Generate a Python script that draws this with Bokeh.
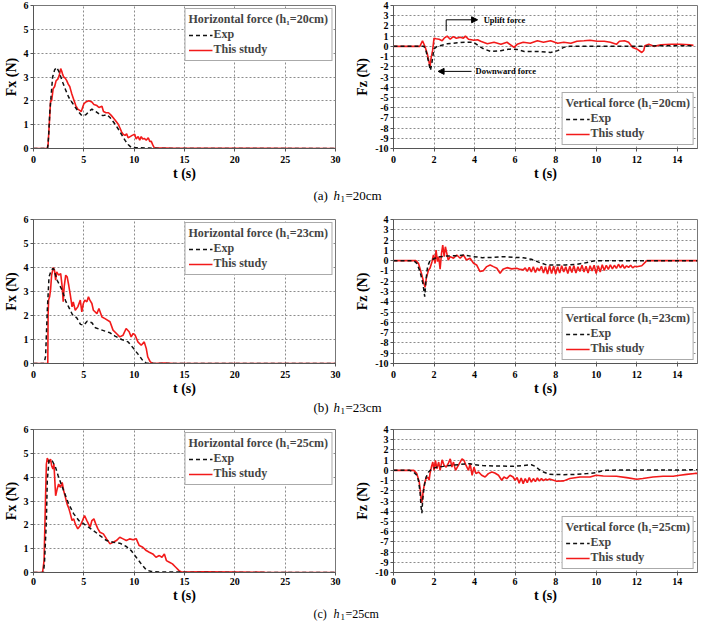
from bokeh.plotting import figure
from bokeh.models import Range1d, FixedTicker, Legend, LegendItem, Label, Arrow, NormalHead
from bokeh.layouts import column, row
from bokeh.embed import file_html
from bokeh.resources import INLINE

FONT = "Liberation Serif"
RED = "#f21a1a"
BLACK = "#111111"

# ---------------- data (t [s], force [N]) ----------------
fx20_exp = [(0, 0), (1.4, 0), (1.5, 0.5), (1.63, 1.6), (1.9, 3.0), (2.1, 3.3), (2.3, 3.4), (2.5, 3.25),
            (2.9, 2.78), (3.2, 2.45), (3.5, 2.15), (3.8, 1.95), (4.15, 1.73), (4.5, 1.52), (4.8, 1.38),
            (5.2, 1.42), (5.5, 1.55), (5.8, 1.65), (6.2, 1.55), (6.6, 1.42), (6.9, 1.38), (7.3, 1.42),
            (7.6, 1.3), (8.0, 1.08), (8.4, 0.83), (8.8, 0.55), (9.1, 0.34), (9.4, 0.17), (9.7, 0.05),
            (10.2, 0.03), (11.5, 0.02), (12.0, 0.01), (12.5, 0), (30, 0)]
fx20_sim = [(0, 0), (1.35, 0), (1.45, 0.15), (1.55, 0.9), (1.7, 2.0), (1.8, 2.0), (1.95, 2.5), (2.1, 2.6),
            (2.25, 2.85), (2.4, 2.9), (2.55, 3.05), (2.7, 3.35), (2.8, 3.25), (2.9, 3.1), (3.0, 3.0),
            (3.15, 2.95), (3.3, 2.85), (3.45, 2.7), (3.6, 2.6), (3.7, 2.45), (3.8, 2.3), (4.0, 2.05),
            (4.2, 1.8), (4.4, 1.65), (4.6, 1.6), (4.75, 1.55), (4.9, 1.75), (5.0, 1.87), (5.2, 1.95),
            (5.5, 2.0), (5.8, 1.95), (6.0, 1.85), (6.3, 1.8), (6.5, 1.72), (6.8, 1.77), (6.95, 1.55),
            (7.2, 1.5), (7.45, 1.5), (7.7, 1.4), (7.9, 1.3), (8.1, 1.2), (8.4, 1.03), (8.6, 0.85),
            (8.75, 0.7), (8.9, 0.6), (9.1, 0.55), (9.25, 0.62), (9.4, 0.45), (9.6, 0.5), (9.8, 0.55),
            (10.05, 0.6), (10.2, 0.4), (10.4, 0.5), (10.55, 0.35), (10.7, 0.5), (10.85, 0.4), (11.0, 0.42),
            (11.2, 0.35), (11.4, 0.45), (11.55, 0.3), (11.7, 0.3), (11.85, 0.15), (12.0, 0.03), (13.0, 0.02),
            (14.0, 0.01), (30, 0)]

fx23_exp = [(0, 0), (1.05, 0), (1.2, 0.3), (1.37, 2.2), (1.54, 3.6), (1.7, 3.8), (1.9, 3.95), (2.0, 3.95),
            (2.35, 3.47), (2.85, 3.05), (3.2, 2.6), (3.5, 2.35), (3.86, 2.04), (4.3, 1.9), (4.67, 1.63),
            (5.0, 1.6), (5.33, 1.76), (5.8, 1.7), (6.15, 1.49), (6.6, 1.42), (7.1, 1.35), (7.6, 1.28),
            (8.1, 1.14), (8.76, 1.0), (9.1, 0.95), (9.4, 0.9), (9.9, 0.65), (10.4, 0.38), (10.9, 0.1),
            (11.2, 0.02), (12, 0), (30, 0)]
fx23_sim = [(0, 0), (1.42, 0), (1.45, 2.0), (1.5, 2.64), (1.6, 2.78), (1.7, 3.1), (1.8, 3.68), (1.96, 4.0),
            (2.08, 3.9), (2.2, 3.47), (2.3, 3.82), (2.5, 3.68), (2.7, 3.75), (2.85, 3.2), (2.95, 2.57),
            (3.05, 3.2), (3.2, 3.68), (3.35, 3.6), (3.5, 3.26), (3.66, 2.85), (3.83, 2.36), (3.95, 2.57),
            (4.15, 2.22), (4.4, 2.36), (4.65, 2.64), (4.8, 2.15), (4.95, 2.5), (5.1, 2.64), (5.3, 2.57),
            (5.46, 2.78), (5.6, 2.64), (5.8, 2.5), (5.95, 2.22), (6.3, 2.08), (6.5, 2.29), (6.8, 1.94),
            (7.1, 1.87), (7.6, 1.74), (7.9, 1.39), (8.24, 1.25), (8.57, 1.11), (8.9, 1.18), (9.2, 1.46),
            (9.5, 1.32), (9.7, 1.11), (9.9, 1.25), (10.1, 1.18), (10.37, 0.9), (10.7, 0.76), (11.0, 0.9),
            (11.2, 0.63), (11.35, 0.28), (11.6, 0.07), (11.85, 0), (13, 0.02), (14, 0), (30, 0)]

fx25_exp = [(0, 0), (1.0, 0), (1.1, 0.5), (1.28, 2.18), (1.37, 3.85), (1.54, 4.72), (1.86, 4.69), (2.2, 4.4),
            (2.45, 4.06), (2.75, 3.71), (3.0, 3.43), (3.5, 2.87), (4.0, 2.46), (4.5, 2.18), (5.0, 2.04),
            (5.46, 1.9), (5.95, 1.76), (6.6, 1.55), (7.26, 1.34), (7.9, 1.27), (8.57, 1.23), (9.22, 1.09),
            (9.7, 0.92), (10.2, 0.64), (10.7, 0.36), (11.2, 0.11), (11.7, 0.04), (12.5, 0.02), (14.5, 0.02),
            (15.5, 0), (30, 0)]
fx25_sim = [(0, 0), (0.9, 0), (1.05, 0.5), (1.18, 2.87), (1.28, 4.55), (1.37, 4.8), (1.54, 4.62), (1.7, 4.76),
            (1.8, 4.48), (1.93, 4.34), (2.03, 4.55), (2.2, 3.22), (2.35, 3.5), (2.5, 3.71), (2.68, 3.57),
            (2.85, 3.78), (3.0, 3.43), (3.17, 3.15), (3.34, 2.87), (3.5, 2.7), (3.66, 2.46), (3.83, 2.18),
            (4.0, 2.25), (4.15, 2.04), (4.4, 1.83), (4.65, 1.97), (4.87, 2.18), (5.07, 2.39), (5.3, 2.18),
            (5.46, 2.04), (5.63, 1.9), (5.8, 2.18), (6.0, 2.25), (6.18, 2.04), (6.4, 1.83), (6.6, 1.69),
            (6.94, 1.62), (7.26, 1.41), (7.6, 1.2), (7.9, 1.27), (8.24, 1.34), (8.57, 1.48), (8.9, 1.41),
            (9.22, 1.34), (9.55, 1.41), (9.9, 1.37), (10.2, 1.42), (10.5, 1.13), (10.86, 1.06), (11.2, 0.92),
            (11.5, 0.85), (11.85, 0.78), (12.17, 0.64), (12.5, 0.71), (12.76, 0.64), (13.0, 0.78), (13.2, 0.5),
            (13.5, 0.43), (13.8, 0.36), (14.13, 0.22), (14.46, 0.08), (14.7, 0.02), (17, 0.03), (20, 0.02),
            (23, 0.01), (30, 0)]

fz20_exp = [(0, 0), (1.5, 0), (1.6, -0.4), (1.75, -1.7), (1.82, -2.35), (1.88, -1.8), (1.94, -1.0), (2.0, -0.25),
            (2.15, 0.0), (2.65, 0.25), (3.15, 0.35), (3.55, 0.4), (3.95, 0.4), (4.2, 0.05), (4.45, -0.25),
            (4.8, -0.5), (5.3, -0.42), (5.8, -0.25), (6.1, -0.3), (6.45, -0.5), (7.1, -0.5), (7.75, -0.6),
            (8.1, -0.42), (8.4, -0.1), (8.7, 0), (10, 0.02), (12, 0), (13, 0.05), (14.8, 0.05)]
fz20_sim = [(0, 0), (1.3, 0), (1.43, 0.55), (1.55, 0.0), (1.67, -0.75), (1.75, -1.5), (1.8, -2.05), (1.85, -1.2),
            (1.93, -0.4), (2.0, 0.8), (2.1, 0.75), (2.25, 0.7), (2.4, 0.55), (2.5, 0.8), (2.65, 1.0), (2.8, 0.7),
            (2.95, 0.95), (3.1, 0.8), (3.3, 0.9), (3.45, 0.8), (3.55, 1.0), (3.7, 0.7), (3.97, 0.6), (4.15, 0.65),
            (4.3, 0.5), (4.63, 0.25), (4.96, 0.4), (5.3, 0.2), (5.6, 0.4), (5.95, -0.1), (6.1, 0.2), (6.4, 0.4),
            (6.75, 0.3), (7.1, 0.55), (7.4, 0.4), (7.75, 0.55), (8.1, 0.3), (8.4, 0.4), (8.75, 0.3), (9.05, 0.5),
            (9.4, 0.55), (9.7, 0.6), (10.05, 0.5), (10.4, 0.5), (10.7, 0.4), (11.0, 0.2), (11.15, 0.5),
            (11.4, 0.55), (11.6, 0.4), (11.8, -0.1), (12.0, -0.25), (12.25, -0.6), (12.35, -0.4), (12.4, 0.05),
            (12.6, 0.2), (12.85, 0.0), (13.2, 0.15), (13.7, 0.2), (14.15, 0.2), (14.6, 0.15), (14.8, 0.1)]

fz23_exp = [(0, 0), (1.0, 0), (1.15, -0.26), (1.31, -1.06), (1.45, -2.2), (1.54, -3.5), (1.6, -2.0),
            (1.68, -0.58), (1.8, 0), (2.05, 0.23), (2.3, 0.39), (2.63, 0.45), (3.1, 0.48), (3.5, 0.55),
            (3.95, 0.39), (4.4, 0.29), (4.9, 0.32), (5.4, 0.39), (5.9, 0.32), (6.4, 0.29), (6.8, 0.13),
            (7.23, -0.2), (7.56, -0.42), (8.05, -0.42), (8.5, -0.42), (9.04, -0.35), (9.37, -0.26),
            (9.7, -0.1), (10.0, 0), (15, 0)]
fz23_sim = [(0, 0), (1.1, 0), (1.23, -0.26), (1.4, -1.4), (1.5, -2.2), (1.56, -2.6), (1.62, -1.7), (1.73, -0.9),
            (1.8, -0.74), (1.9, -0.1), (1.97, 0.55), (2.05, -0.26), (2.1, 1.03), (2.17, -0.1), (2.23, 0.39),
            (2.3, -0.84), (2.37, 0.71), (2.43, 1.5), (2.5, 0.39), (2.56, 1.35), (2.63, 0.71), (2.7, 0.06),
            (2.8, 0.39), (2.96, 0.23), (3.12, 0.55), (3.29, 0.23), (3.45, 0.55), (3.6, 0.06), (3.78, 0.23),
            (3.95, -0.26), (4.1, -0.42), (4.27, -1.06), (4.44, -0.97), (4.6, -0.58), (4.77, -0.42),
            (4.93, -0.58), (5.1, -0.74), (5.26, -1.23), (5.4, -0.84), (5.6, -0.68), (5.83, -0.8),
            (6.08, -0.74), (6.25, -0.85), (6.4, -0.9),
            (6.5, -0.7), (6.6, -1.05), (6.7, -0.65), (6.8, -1.1), (6.9, -0.6), (7.0, -1.15), (7.1, -0.7),
            (7.2, -1.0), (7.3, -0.55), (7.4, -1.2), (7.5, -0.6), (7.6, -1.3), (7.7, -0.5), (7.8, -1.25),
            (7.9, -0.55), (8.0, -1.3), (8.1, -0.6), (8.2, -1.2), (8.3, -0.5), (8.4, -1.1), (8.5, -0.6),
            (8.6, -1.25), (8.7, -0.55), (8.8, -1.15), (8.9, -0.5), (9.0, -1.2), (9.1, -0.6), (9.2, -1.05),
            (9.3, -0.45), (9.4, -1.1), (9.5, -0.55), (9.6, -1.2), (9.7, -0.5), (9.8, -1.0), (9.9, -0.45),
            (10.0, -1.25), (10.1, -0.5), (10.2, -1.1), (10.3, -0.4), (10.4, -0.95), (10.5, -0.45),
            (10.6, -0.85), (10.7, -0.4), (10.8, -0.8), (10.9, -0.45), (11.0, -0.75), (11.1, -0.35),
            (11.2, -0.7), (11.3, -0.4), (11.4, -0.75), (11.5, -0.5), (11.6, -0.65), (11.7, -0.45),
            (11.8, -0.7), (11.9, -0.55), (12.0, -0.6), (12.25, -0.5), (12.5, 0), (15, 0)]

fz25_exp = [(0, 0), (0.8, 0), (0.99, -0.16), (1.15, -0.48), (1.23, -0.97), (1.31, -2.1), (1.36, -3.55),
            (1.4, -4.2), (1.44, -2.9), (1.51, -1.6), (1.61, -0.65), (1.73, -0.16), (1.9, 0.16), (2.14, 0.32),
            (2.46, 0.39), (2.8, 0.48), (3.3, 0.58), (3.78, 0.65), (4.0, 0.55), (4.4, 0.48), (4.93, 0.42),
            (5.4, 0.42), (5.9, 0.39), (6.4, 0.48), (6.8, 0.55), (7.0, 0.39), (7.2, 0.06), (7.4, -0.16),
            (7.7, -0.39), (8.4, -0.42), (9.04, -0.39), (9.53, -0.32), (10.0, -0.23), (10.27, -0.06),
            (10.5, 0), (11, 0.03), (15, 0.05)]
fz25_sim = [(0, 0), (1.0, 0), (1.15, -0.32), (1.27, -1.13), (1.33, -2.1), (1.38, -3.2), (1.42, -2.9),
            (1.46, -2.1), (1.53, -1.3), (1.6, -0.8), (1.69, -0.65), (1.76, -0.97), (1.8, -0.32), (1.87, 0.32),
            (1.94, 0.81), (2.0, 0.0), (2.07, 0.97), (2.14, 0.16), (2.23, 0.81), (2.3, 0.0), (2.4, 1.03),
            (2.5, 0.48), (2.6, 0.32), (2.71, 0.71), (2.8, 1.13), (2.88, 0.32), (2.96, 0.81), (3.06, 0.0),
            (3.15, 0.32), (3.29, 0.81), (3.38, 1.13), (3.48, 0.97), (3.58, 0.48), (3.7, 0.0), (3.78, 0.65),
            (3.88, -0.48), (3.97, 0.32), (4.07, -0.32), (4.2, -0.16), (4.35, -0.48), (4.52, -0.65),
            (4.68, -0.32), (4.85, -0.16), (5.0, -0.26), (5.18, -0.48), (5.34, -0.97), (5.45, -0.65),
            (5.59, -0.81), (5.75, -0.48), (5.9, -0.65), (6.0, -0.97),
            (6.1, -0.7), (6.2, -1.25), (6.3, -0.75), (6.4, -1.3), (6.5, -0.8), (6.6, -1.2), (6.7, -0.7),
            (6.8, -1.15), (6.9, -0.8), (7.0, -1.1), (7.1, -0.75), (7.2, -1.05), (7.3, -0.8), (7.4, -1.0),
            (7.5, -0.85), (7.6, -0.95),
            (7.7, -0.85), (8.05, -1.06), (8.4, -1.03), (8.7, -0.8), (9.2, -0.65), (9.7, -0.65), (10.0, -0.48),
            (10.35, -0.55), (11.0, -0.58), (11.5, -0.71), (12.0, -0.87), (12.3, -0.8), (12.8, -0.65),
            (13.3, -0.58), (13.8, -0.58), (14.13, -0.48), (14.46, -0.39), (14.87, -0.3), (15, -0.3)]

# ticks / labels
fx_x_ticks = [0, 5, 10, 15, 20, 25, 30]
fx_y_ticks = [0, 1, 2, 3, 4, 5, 6]
fz_x_ticks = [0, 2, 4, 6, 8, 10, 12, 14]
fz_y_ticks = [-10, -9, -8, -7, -6, -5, -4, -3, -2, -1, 0, 1, 2, 3, 4]
fz_y_tick_labels = ["-10", "-9", "-8", "-7", "-6", "-5", "-4", "-3", "-2", "-1", "0", "1", "2", "3", "4"]

cases = ["20cm", "23cm", "25cm"]
case_letters = ["(a)", "(b)", "(c)"]
legend_labels = ["Exp", "This study"]


def style(p):
    p.outline_line_color = "#777777"
    p.outline_line_width = 1
    p.grid.grid_line_color = "#8c8c8c"
    p.grid.grid_line_dash = "2 2"
    p.grid.grid_line_width = 1
    for ax in p.axis:
        ax.axis_line_color = "#555555"
        ax.major_tick_line_color = "#555555"
        ax.minor_tick_line_color = None
        ax.major_tick_out = 3
        ax.major_tick_in = 0
        ax.major_label_text_font = FONT
        ax.major_label_text_font_style = "bold"
        ax.major_label_text_font_size = "10px"
        ax.major_label_text_color = "black"
        ax.axis_label_text_font = FONT
        ax.axis_label_text_font_style = "bold"
        ax.axis_label_text_font_size = "14px"
        ax.axis_label_text_color = "black"
    p.xaxis.major_label_standoff = 4
    p.xaxis.axis_label_standoff = 0
    p.yaxis.major_label_standoff = 2
    p.yaxis.axis_label_standoff = 2


def add_series(p, exp, sim, title, loc):
    te, ve = zip(*exp)
    ts, vs = zip(*sim)
    r_sim = p.line(list(ts), list(vs), line_color=RED, line_width=1.6)
    r_exp = p.line(list(te), list(ve), line_color=BLACK, line_width=1.5, line_dash="4 3")
    leg = Legend(items=[LegendItem(label=legend_labels[0], renderers=[r_exp]),
                        LegendItem(label=legend_labels[1], renderers=[r_sim])],
                 title=title, location=loc)
    leg.title_text_font = FONT
    leg.title_text_font_style = "bold"
    leg.title_text_font_size = "12px"
    leg.label_text_font = FONT
    leg.label_text_font_style = "bold"
    leg.label_text_font_size = "12px"
    leg.glyph_width = 24
    leg.glyph_height = 12
    leg.label_height = 12
    leg.label_standoff = 1
    leg.spacing = 0
    leg.padding = 3
    leg.margin = 3
    leg.title_standoff = 0
    leg.border_line_color = "#555555"
    leg.border_line_width = 1.5
    leg.background_fill_color = "white"
    leg.background_fill_alpha = 1
    p.add_layout(leg)


def fx_fig(exp, sim, case, top, fh, bottom=37):
    p = figure(width=350, height=top + fh + bottom, x_range=Range1d(0, 30), y_range=Range1d(0, 6),
               output_backend="svg", toolbar_location=None,
               min_border_left=29, min_border_right=15, min_border_top=top, min_border_bottom=bottom)
    p.xaxis.ticker = FixedTicker(ticks=fx_x_ticks)
    p.yaxis.ticker = FixedTicker(ticks=fx_y_ticks)
    p.xaxis.axis_label = "t (s)"
    p.yaxis.axis_label = "Fx (N)"
    style(p)
    add_series(p, exp, sim, "Horizontal force (h\u2081=" + case + ")", "top_right")
    return p


def fz_fig(exp, sim, case, top, fh, bottom=37):
    p = figure(width=353, height=top + fh + bottom, x_range=Range1d(0, 15), y_range=Range1d(-10, 4),
               output_backend="svg", toolbar_location=None,
               min_border_left=43, min_border_right=6, min_border_top=top, min_border_bottom=bottom)
    p.xaxis.ticker = FixedTicker(ticks=fz_x_ticks)
    p.yaxis.ticker = FixedTicker(ticks=fz_y_ticks)
    p.yaxis.major_label_overrides = {v: s for v, s in zip(fz_y_ticks, fz_y_tick_labels)}
    p.xaxis.axis_label = "t (s)"
    p.yaxis.axis_label = "Fz (N)"
    style(p)
    add_series(p, exp, sim, "Vertical force (h\u2081=" + case + ")", "bottom_right")
    return p


def caption(letter, case, h, yc, size=13):
    c = figure(width=703, height=h, x_range=Range1d(0, 703), y_range=Range1d(0, h),
               output_backend="svg", toolbar_location=None, min_border=0,
               x_axis_location=None, y_axis_location=None)
    c.grid.visible = False
    c.outline_line_color = None
    y = h - yc
    fs = "%dpx" % size
    c.add_layout(Label(x=313, y=y, text=letter, text_font=FONT, text_font_size=fs,
                       text_baseline="middle", text_color="black"))
    c.add_layout(Label(x=333, y=y, text="h", text_font=FONT, text_font_size=fs,
                       text_font_style="italic", text_baseline="middle", text_color="black"))
    c.add_layout(Label(x=340, y=y - 3, text="1", text_font=FONT, text_font_size="9px",
                       text_baseline="middle", text_color="black"))
    c.add_layout(Label(x=345, y=y, text="=" + case, text_font=FONT, text_font_size=fs,
                       text_baseline="middle", text_color="black"))
    return c


pa = fx_fig(fx20_exp, fx20_sim, cases[0], 5, 143)
pb = fz_fig(fz20_exp, fz20_sim, cases[0], 5, 143)
# annotations on the first vertical-force panel
pb.add_layout(Arrow(end=None, x_start=2.6, y_start=1.5, x_end=2.6, y_end=2.6,
                    line_color="black", line_width=1))
pb.add_layout(Arrow(end=NormalHead(size=6, fill_color="black", line_color="black"),
                    x_start=2.6, y_start=2.6, x_end=4.15, y_end=2.6, line_color="black", line_width=1))
pb.add_layout(Label(x=4.45, y=2.6, text="Uplift force", text_font=FONT, text_font_style="bold",
                    text_font_size="8.5px", text_baseline="middle", text_color="black"))
pb.add_layout(Arrow(end=NormalHead(size=6, fill_color="black", line_color="black"),
                    x_start=3.85, y_start=-2.45, x_end=2.2, y_end=-2.45, line_color="black", line_width=1))
pb.add_layout(Label(x=4.05, y=-2.45, text="Downward force", text_font=FONT, text_font_style="bold",
                    text_font_size="8.5px", text_baseline="middle", text_color="black"))

pc = fx_fig(fx23_exp, fx23_sim, cases[1], 7, 144)
pd = fz_fig(fz23_exp, fz23_sim, cases[1], 7, 144)
pe = fx_fig(fx25_exp, fx25_sim, cases[2], 7, 143, bottom=34)
pf = fz_fig(fz25_exp, fz25_sim, cases[2], 7, 143, bottom=34)
pe.xaxis.major_label_standoff = 2
pf.xaxis.major_label_standoff = 2

cap1 = caption(case_letters[0], cases[0], 27, 10)
cap2 = caption(case_letters[1], cases[1], 22, 7)
cap3 = caption(case_letters[2], cases[2], 15, 7, size=12)

layout = column(row(pa, pb), cap1, row(pc, pd), cap2, row(pe, pf), cap3)

open("out.html", "w").write(file_html(layout, INLINE))
